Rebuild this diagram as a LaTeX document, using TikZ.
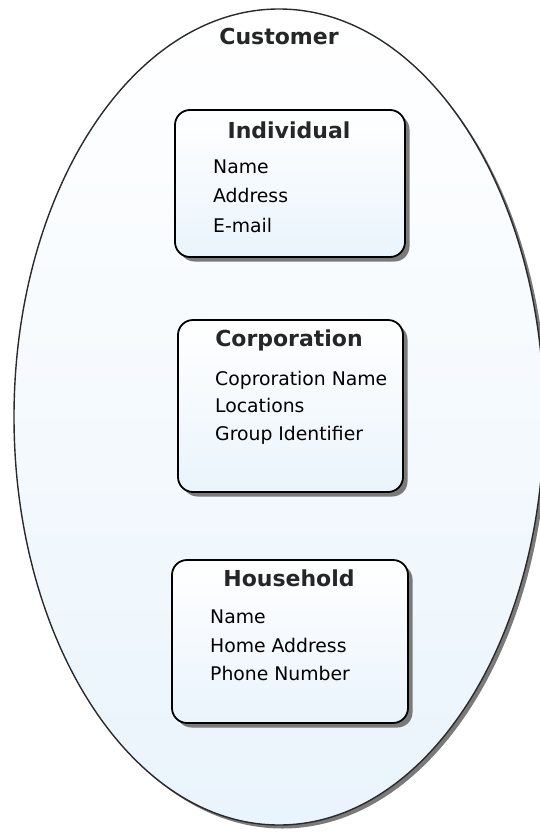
\documentclass[tikz,border=0pt]{standalone}
\usepackage{fontspec}
\setmainfont{DejaVu Sans}
\usetikzlibrary{shapes.geometric,shadows}
\definecolor{paleblue}{HTML}{EAF4FC}
\definecolor{edgegray}{HTML}{2A2A2A}
\definecolor{shadowgray}{HTML}{7A7A7A}
\tikzset{
  px/.style={x=1pt,y=-1pt},
  outer/.style={ellipse, draw=edgegray, line width=1.4pt, inner sep=0pt,
    top color=white, bottom color=paleblue,
    drop shadow={shadow xshift=3.5pt, shadow yshift=-3.5pt, fill=shadowgray, opacity=1}},
  entity/.style={rectangle, rounded corners=15pt, draw=black, line width=1.8pt, inner sep=0pt,
    top color=white, bottom color=paleblue,
    drop shadow={shadow xshift=4.5pt, shadow yshift=-4.5pt, fill=shadowgray, opacity=1}},
  title/.style={anchor=base, inner sep=0pt, font=\fontsize{22}{26}\selectfont\bfseries, text=black!85},
  item/.style={anchor=base west, inner sep=0pt, font=\fontsize{18.8}{22}\selectfont, text=black}
}
\begin{document}
\begin{tikzpicture}[px]
\useasboundingbox (0,0) rectangle (540,835);
\begin{scope}
\clip (0,0) rectangle (540,835);
\node[outer, minimum width=530pt, minimum height=816pt] (customer) at (279,417) {};
\end{scope}
\node[title] (customerlbl) at (279,44) {Customer};

\node[entity, minimum width=230pt, minimum height=147pt] (individual) at (290,183.5) {};
\node[title] (indt) at (289,138) {Individual};
\node[item] (ind1) at (213,173) {Name};
\node[item] (ind2) at (213,202) {Address};
\node[item] (ind3) at (213,232) {E-mail};

\node[entity, minimum width=225pt, minimum height=172pt] (corporation) at (290.5,406) {};
\node[title] (corpt) at (289,346) {Corporation};
\node[item] (corp1) at (215,385) {Coproration Name};
\node[item] (corp2) at (215,412) {Locations};
\node[item] (corp3) at (215,440) {Group Identifier};

\node[entity, minimum width=236pt, minimum height=163pt] (household) at (290,641.5) {};
\node[title] (houset) at (289,586) {Household};
\node[item] (house1) at (210,623) {Name};
\node[item] (house2) at (210,652) {Home Address};
\node[item] (house3) at (210,680) {Phone Number};
\end{tikzpicture}
\end{document}
